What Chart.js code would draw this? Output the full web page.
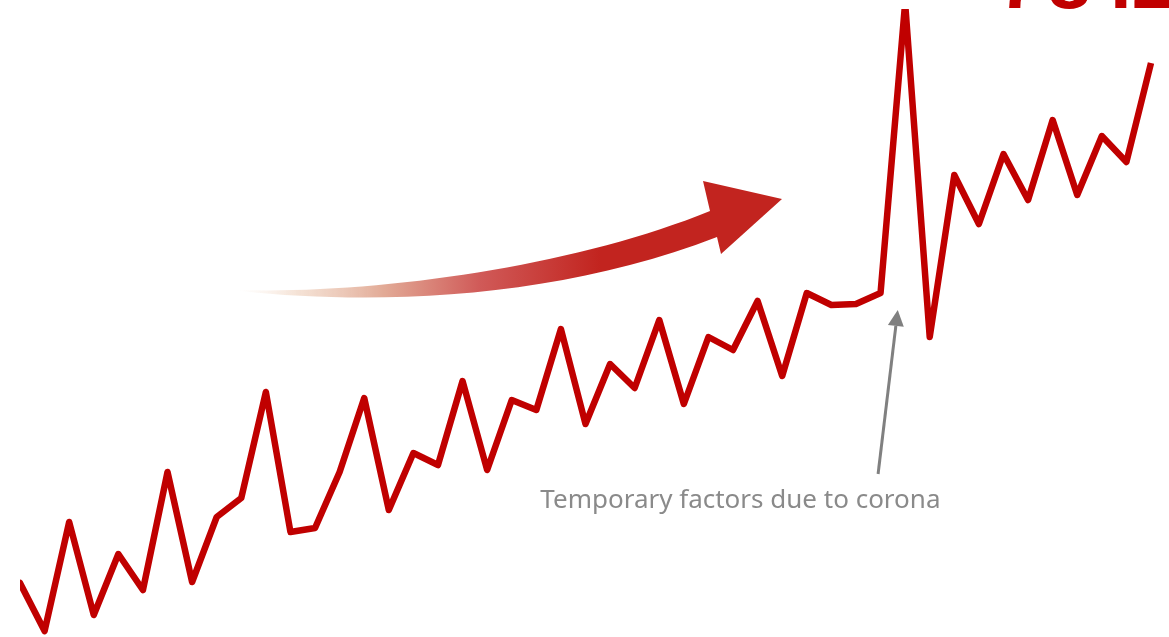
<!DOCTYPE html>
<html>
<head>
<meta charset="utf-8">
<script src="https://cdn.jsdelivr.net/npm/chart.js"></script>
<style>
    html, body { margin: 0; padding: 0; background: #fff; }
    .chart-box { position: relative; width: 1169px; height: 637px; }
</style>
</head>
<body>
<div class="chart-box"><canvas class="growth-chart"></canvas></div>
<script>
    // quarterly series, 2011 Q1 .. 2022 Q4
    var quarters = [];
    for (var year = 2011; year <= 2022; year++)
        for (var q = 1; q <= 4; q++)
            quarters.push(year + " Q" + q);

    var values = [
        3.2, 5.4, 0.6, 11.5, 2.2, 8.3, 4.7, 16.5,
        5.5, 12.0, 13.9, 24.5, 10.5, 10.9, 16.5, 23.9,
        12.7, 18.4, 17.2, 25.6, 16.7, 23.7, 22.7, 30.8,
        21.3, 27.3, 24.9, 31.7, 23.3, 30.0, 28.7, 33.6,
        26.1, 34.4, 33.2, 33.3, 34.4, 63.4, 30.0, 46.2,
        41.3, 48.3, 43.7, 51.7, 44.2, 50.1, 47.5, 57.4
    ];

    var headline = "78.2";
    var noteText = "Temporary factors due to corona";
    // note arrow: [index, value] of tail and tip, text anchor
    var noteTail = [35.9, 16.3];
    var noteTip = [36.7, 32.7];
    var noteAt = [30.3, 12.9];

    var red = "#c00000";

    var decor = {
        id: "decor",
        afterDatasetsDraw: function(chart) {
            var ctx = chart.ctx,
                xs = chart.scales.x,
                ys = chart.scales.y;
            ctx.save();

            // big trend arrow, fading in from the left
            var grad = ctx.createLinearGradient(240, 0, 720, 0);
            grad.addColorStop(0, "rgba(246,228,214,0)");
            grad.addColorStop(0.12, "rgba(240,214,196,0.7)");
            grad.addColorStop(0.3, "rgba(226,170,150,1)");
            grad.addColorStop(0.5, "rgba(208,90,88,1)");
            grad.addColorStop(0.75, "#c2241f");
            grad.addColorStop(1, "#c2241f");
            ctx.fillStyle = grad;
            ctx.beginPath();
            ctx.moveTo(240, 290);
            ctx.bezierCurveTo(380, 294, 575, 266, 710, 211);
            ctx.lineTo(703, 181);
            ctx.lineTo(782, 199);
            ctx.lineTo(721, 254);
            ctx.lineTo(717, 237);
            ctx.bezierCurveTo(560, 298, 380, 306, 240, 291);
            ctx.closePath();
            ctx.fill();

            // grey pointer to the spike
            var x0 = xs.getPixelForValue(noteTail[0]), y0 = ys.getPixelForValue(noteTail[1]);
            var x1 = xs.getPixelForValue(noteTip[0]), y1 = ys.getPixelForValue(noteTip[1]);
            var ang = Math.atan2(y1 - y0, x1 - x0);
            var head = 16, half = 8;
            var bx = x1 - head * Math.cos(ang), by = y1 - head * Math.sin(ang);
            ctx.strokeStyle = "#808080";
            ctx.fillStyle = "#808080";
            ctx.lineWidth = 3;
            ctx.beginPath();
            ctx.moveTo(x0, y0);
            ctx.lineTo(bx, by);
            ctx.stroke();
            ctx.beginPath();
            ctx.moveTo(x1, y1);
            ctx.lineTo(bx + half * Math.sin(ang), by - half * Math.cos(ang));
            ctx.lineTo(bx - half * Math.sin(ang), by + half * Math.cos(ang));
            ctx.closePath();
            ctx.fill();

            ctx.fillStyle = "#8a8a8a";
            ctx.font = '26px "Noto Sans"';
            ctx.textAlign = "center";
            ctx.textBaseline = "alphabetic";
            ctx.fillText(noteText, xs.getPixelForValue(noteAt[0]), ys.getPixelForValue(noteAt[1]));

            // headline figure, running off the top edge
            ctx.fillStyle = red;
            ctx.font = 'bold 78px "Liberation Sans"';
            ctx.textAlign = "left";
            ctx.letterSpacing = "6px";
            ctx.fillText(headline.slice(0, 2), 998, 8);
            ctx.letterSpacing = "0px";
            ctx.fillText(headline.slice(2), 1110, 8);
            ctx.restore();
        }
    };

    new Chart(document.getElementsByClassName("growth-chart")[0].getContext("2d"), {
        type: "line",
        data: {
            labels: quarters,
            datasets: [{
                data: values,
                borderColor: red,
                borderWidth: 6.5,
                borderJoinStyle: "round",
                pointRadius: 0,
                tension: 0,
                fill: false,
                clip: { left: 0, top: 0, right: false, bottom: false }
            }]
        },
        options: {
            responsive: true,
            maintainAspectRatio: false,
            animation: false,
            layout: { padding: { left: 20, right: 18, top: 9, bottom: 0 } },
            plugins: {
                legend: { display: false },
                tooltip: { enabled: false }
            },
            scales: {
                x: { display: false, min: quarters[1], max: quarters[47] },
                y: { display: false, min: 0, max: 62.8 }
            }
        },
        plugins: [decor]
    });
</script>
</body>
</html>
